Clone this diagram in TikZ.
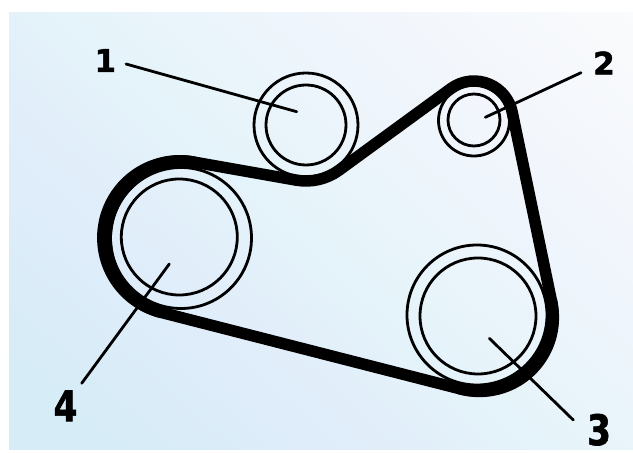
\documentclass[tikz,border=0pt]{standalone}
\usepackage{fontspec}
\setmainfont{DejaVu Sans}
\newfontfamily\digitfont[FakeBold=1.6]{DejaVu Sans Bold}
\usetikzlibrary{calc}
\definecolor{bgA}{HTML}{D6ECF7}
\definecolor{bgB}{HTML}{E0EDFA}
\definecolor{bgC}{HTML}{E6F4FA}
\definecolor{bgD}{HTML}{F0F5FC}
\definecolor{bgE}{HTML}{FAFBFC}
\pgfdeclarehorizontalshading{panelgrad}{100bp}{
 color(0bp)=(bgA); color(25bp)=(bgA); color(38bp)=(bgB); color(50bp)=(bgC); color(62bp)=(bgD); color(80bp)=(bgE); color(100bp)=(white)}
\tikzset{
 pulley/.style={draw=black,line width=2.8pt,circle,inner sep=0pt},
 leader/.style={draw=black,line width=2.8pt,line cap=round},
 belt/.style={draw=black,line width=11.5pt,line join=round},
 smalldigit/.style={font=\fontsize{31}{31}\selectfont\digitfont,inner sep=0pt,anchor=base},
 bigdigit/.style={font=\fontsize{42}{42}\selectfont\digitfont,inner sep=0pt,anchor=base,xscale=.82,transform shape}
}
\begin{document}
\begin{tikzpicture}[x=1pt,y=1pt]
\useasboundingbox (0,0) rectangle (633,453);
\begin{scope}
\clip (9,3) rectangle (633,440);
\shade[shading=panelgrad,shading angle=48] (-40,-30) rectangle (680,500);
\end{scope}
% pulleys
\node[pulley,minimum size=104pt] (p1o) at (306,328) {};
\node[pulley,minimum size=80pt] (p1i) at (306,328) {};
\node[pulley,minimum size=71pt] (p2o) at (474,332.5) {};
\node[pulley,minimum size=52pt] (p2i) at (474,333) {};
\node[pulley,minimum size=140pt] (p3o) at (477,138) {};
\node[pulley,minimum size=116pt] (p3i) at (478,137) {};
\node[pulley,minimum size=141pt] (p4o) at (181,215) {};
\node[pulley,minimum size=116pt] (p4i) at (179.3,216) {};
% belt
\coordinate (c1) at (306,328);
\coordinate (c2) at (474,333);
\coordinate (c3) at (478,137);
\coordinate (c4) at (181,215);
\draw[belt]
 ($(c4)+(80:77)$) -- ($(c1)+(260:56)$)
 arc[start angle=260,end angle=306.1,radius=56]
 -- ($(c2)+(126.1:39)$)
 arc[start angle=126.1,end angle=11.8,radius=39]
 -- ($(c3)+(11.8:75)$)
 arc[start angle=11.8,end angle=-104.3,radius=75]
 -- ($(c4)+(255.7:77)$)
 arc[start angle=255.7,end angle=80,radius=77]
 -- cycle;
% thicker wrap on the large pulleys: tapered crescents
\fill[black,shift={(c4)}]
 plot[domain=80:255.7,samples=70] (\x:{82.75+1.2*sin((\x-80)*1.0245)})
 -- plot[domain=255.7:80,samples=70] (\x:{71.25-2.2*sin((\x-80)*1.0245)}) -- cycle;
\fill[black,shift={(c3)}]
 plot[domain=-104.3:11.8,samples=60] (\x:{80.75+1*sin((\x+104.3)*1.5504)})
 -- plot[domain=11.8:-104.3,samples=60] (\x:{69.25-1.5*sin((\x+104.3)*1.5504)}) -- cycle;
% labels
\node[smalldigit] (n1) at (105.3,381.2) {1};
\node[smalldigit] (n2) at (604,378.5) {2};
\node[bigdigit] (n3) at (599,8) {3};
\node[bigdigit] (n4) at (65.5,31.8) {4};
\coordinate (e1a) at (126,389);
\coordinate (e1b) at (296.7,341.3);
\coordinate (e2a) at (581,380.3);
\coordinate (e2b) at (485.3,335.7);
\coordinate (e3a) at (573.3,33);
\coordinate (e3b) at (489.3,114.7);
\coordinate (e4a) at (81.7,69.7);
\coordinate (e4b) at (169.3,189);
\draw[leader] (e1a) -- (e1b);
\draw[leader] (e2a) -- (e2b);
\draw[leader] (e3a) -- (e3b);
\draw[leader] (e4a) -- (e4b);
\end{tikzpicture}
\end{document}
